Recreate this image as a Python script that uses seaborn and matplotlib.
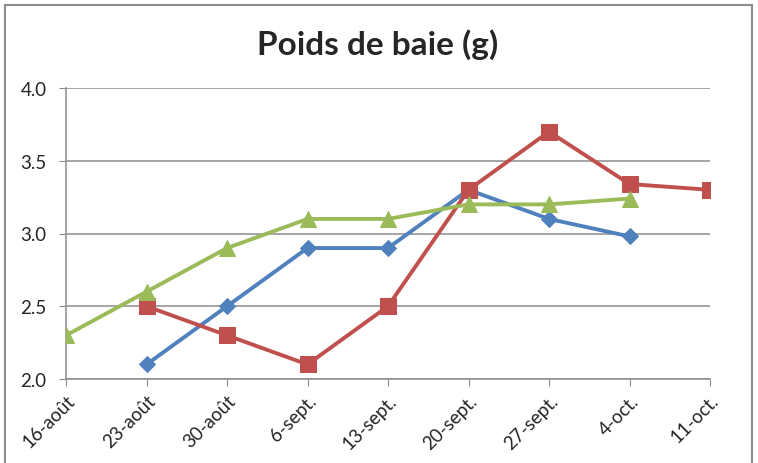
import numpy as np
import pandas as pd
import matplotlib
matplotlib.use("Agg")
import matplotlib.pyplot as plt
import seaborn as sns
from matplotlib.patches import Rectangle

# data
dates = ["16-août", "23-août", "30-août", "6-sept.", "13-sept.",
         "20-sept.", "27-sept.", "4-oct.", "11-oct."]
serie_bleue = [np.nan, 2.1, 2.5, 2.9, 2.9, 3.3, 3.1, 2.98, np.nan]
serie_rouge = [np.nan, 2.5, 2.3, 2.1, 2.5, 3.3, 3.7, 3.34, 3.3]
serie_verte = [2.3, 2.6, 2.9, 3.1, 3.1, 3.2, 3.2, 3.24, np.nan]

sns.set_style("white")
plt.rcParams['font.family'] = ['Lato', 'DejaVu Sans']

fig = plt.figure(figsize=(7.58, 4.64), dpi=100)
ax = fig.add_axes([66 / 758, 1 - 380 / 464, (710 - 66) / 758, (380 - 89) / 464])

pos = np.arange(len(dates))
styles = [
    (serie_bleue, "#4F81BD", "D", 8.5),
    (serie_rouge, "#C0504D", "s", 11),
    (serie_verte, "#9BBB59", "^", 12),
]
for vals, col, mk, ms in styles:
    df = pd.DataFrame({"x": pos, "y": vals}).dropna()
    sns.lineplot(data=df, x="x", y="y", ax=ax, color=col, linewidth=2.8,
                 marker=mk, markersize=ms, markeredgecolor=col, zorder=3)

ax.set_xlim(0, len(dates) - 1)
ax.set_ylim(2.0, 4.0)
yt = [2.0, 2.5, 3.0, 3.5, 4.0]
ax.set_yticks(yt)
ax.set_yticklabels([f"{v:.1f}" for v in yt], fontsize=13.5)
ax.set_xticks(pos)
ax.set_xticklabels(dates, rotation=45, ha="right", rotation_mode="anchor", fontsize=13.5)
ax.set_xlabel("")
ax.set_ylabel("")
ax.grid(axis="y", color="#8C8C8C", linewidth=1.1)
ax.grid(axis="x", visible=False)
for s in ["top", "right"]:
    ax.spines[s].set_visible(False)
for s in ["left", "bottom"]:
    ax.spines[s].set_color("#8C8C8C")
    ax.spines[s].set_linewidth(1.1)
ax.tick_params(axis="y", length=5, color="#8C8C8C", direction="out", left=True, pad=9)
ax.tick_params(axis="x", length=5, color="#8C8C8C", direction="out", bottom=True, pad=4)
ax.set_axisbelow(True)

fig.text(378 / 758, 1 - 45 / 464, "Poids de baie (g)", ha="center", va="center",
         fontsize=24, fontweight="bold")

# outer frame of the chart area
fig.patches.append(Rectangle((5 / 758, -0.05), 747 / 758, 1.05 - 6 / 464,
                             transform=fig.transFigure, fill=False,
                             edgecolor="#8C8C8C", linewidth=1.5))

fig.savefig("out.png", dpi=100)
